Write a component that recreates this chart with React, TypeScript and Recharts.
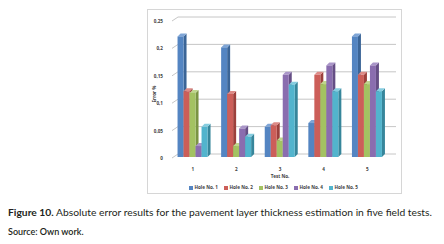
import React from "react";
import { BarChart, Bar, XAxis, YAxis, CartesianGrid, Legend } from "recharts";

const tests = ["1", "2", "3", "4", "5"];
const hole1 = [0.22, 0.2, 0.055, 0.062, 0.22];
const hole2 = [0.12, 0.115, 0.058, 0.15, 0.15];
const hole3 = [0.117, 0.02, 0.03, 0.133, 0.133];
const hole4 = [0.02, 0.052, 0.15, 0.167, 0.167];
const hole5 = [0.055, 0.037, 0.132, 0.12, 0.12];
const yTicks = [0, 0.05, 0.1, 0.15, 0.2, 0.25];

const series = [
  { key: "h1", name: "Hole No. 1", values: hole1, color: "#5485c2", side: "#3b6597", top: "#7fa5d6" },
  { key: "h2", name: "Hole No. 2", values: hole2, color: "#cc5e59", side: "#9c403c", top: "#dd8a86" },
  { key: "h3", name: "Hole No. 3", values: hole3, color: "#a3c262", side: "#7a9443", top: "#bfd68e" },
  { key: "h4", name: "Hole No. 4", values: hole4, color: "#8a6daf", side: "#654e85", top: "#a995c8" },
  { key: "h5", name: "Hole No. 5", values: hole5, color: "#52b4cd", side: "#37869b", top: "#86cde0" },
];

const data = tests.map((t, i) => {
  const row: any = { test: t };
  series.forEach((s) => (row[s.key] = s.values[i]));
  return row;
});

const D = 3;
const TEXT = "#404040";
const FONT = "'Open Sans', sans-serif";
const FS = 4.6;

const Bar3D = (props: any) => {
  const { x, y, width, height, fill, side, top } = props;
  if (!height || height <= 0) return null;
  return (
    <g>
      <polygon
        points={`${x + width},${y} ${x + width + D},${y - D} ${x + width + D},${y + height - D} ${x + width},${y + height}`}
        fill={side}
      />
      <polygon points={`${x},${y} ${x + D},${y - D} ${x + width + D},${y - D} ${x + width},${y}`} fill={top} />
      <rect x={x} y={y} width={width} height={height} fill={fill} />
    </g>
  );
};

const gridLine = (p: any) => (
  <polyline
    key={p.key}
    points={`${p.x1 + 1},${p.y1 + 1} ${p.x1 + 7},${p.y1 - D} ${p.x2 + 7},${p.y1 - D}`}
    fill="none"
    stroke="#b8b8b8"
    strokeWidth={0.8}
  />
);

const YTick = (props: any) => {
  const { x, y, payload } = props;
  const label = String(payload.value).replace(".", ",");
  return (
    <text x={x} y={y} dy={3} textAnchor="end" fontSize={FS} fontWeight={700} fill={TEXT} fontFamily={FONT}>
      {label}
    </text>
  );
};

const YLabel = () => (
  <text x={6} y={84} transform="rotate(-90 6 84)" textAnchor="middle" dominantBaseline="central"
    fontSize={FS} fontWeight={700} fill={TEXT} fontFamily={FONT}>
    Error %
  </text>
);

const LegendContent = () => (
  <div style={{ display: "flex", justifyContent: "center", paddingLeft: 16, height: 9, lineHeight: "9px", fontFamily: FONT, fontSize: FS, fontWeight: 700, color: TEXT }}>
    {series.map((s) => (
      <div key={s.key} style={{ display: "flex", alignItems: "center", width: 35 }}>
        <span style={{ display: "inline-block", width: 4, height: 4, background: s.color, marginRight: 1.5 }} />
        <span>{s.name}</span>
      </div>
    ))}
  </div>
);

export default function App() {
  return (
    <div style={{ position: "absolute", left: 0, top: 0, width: 444, height: 244, background: "#fff" }}>
      <div style={{ position: "absolute", left: 147, top: 9, width: 255, height: 185, border: "1px solid #d6d6d6", boxSizing: "border-box" }}>
        <BarChart
          width={253}
          height={183}
          data={data}
          margin={{ top: 10, right: 12, left: 0, bottom: 1 }}
          barCategoryGap="15%"
          barGap={0}
        >
          <CartesianGrid vertical={false} horizontal={gridLine} />
          <XAxis
            dataKey="test"
            height={26}
            axisLine={false}
            tickLine={false}
            tickMargin={5}
            tick={{ fontSize: FS, fontWeight: 700, fill: TEXT, fontFamily: FONT }}
            label={{ value: "Test No.", position: "insideBottom", offset: 5, fontSize: FS, fontWeight: 700, fill: TEXT, fontFamily: FONT }}
          />
          <YAxis
            width={23}
            domain={[0, 0.25]}
            ticks={yTicks}
            axisLine={false}
            tickLine={false}
            tick={<YTick />}
          />
          <Legend verticalAlign="bottom" content={<LegendContent />} />
          {series.map((s) => (
            <Bar
              key={s.key}
              dataKey={s.key}
              name={s.name}
              fill={s.color}
              isAnimationActive={false}
              shape={(p: any) => <Bar3D {...p} side={s.side} top={s.top} />}
            />
          ))}
          <YLabel />
        </BarChart>
      </div>
      <div style={{ position: "absolute", left: 8, top: 206, fontFamily: "Lato, sans-serif", fontSize: 10.3, color: "#231f20", whiteSpace: "nowrap" }}>
        <b>Figure 10.</b> Absolute error results for the pavement layer thickness estimation in five field tests.
      </div>
      <div style={{ position: "absolute", left: 8, top: 226, fontFamily: "Lato, sans-serif", fontSize: 9, fontWeight: 600, color: "#231f20", whiteSpace: "nowrap" }}>
        Source: Own work.
      </div>
    </div>
  );
}
